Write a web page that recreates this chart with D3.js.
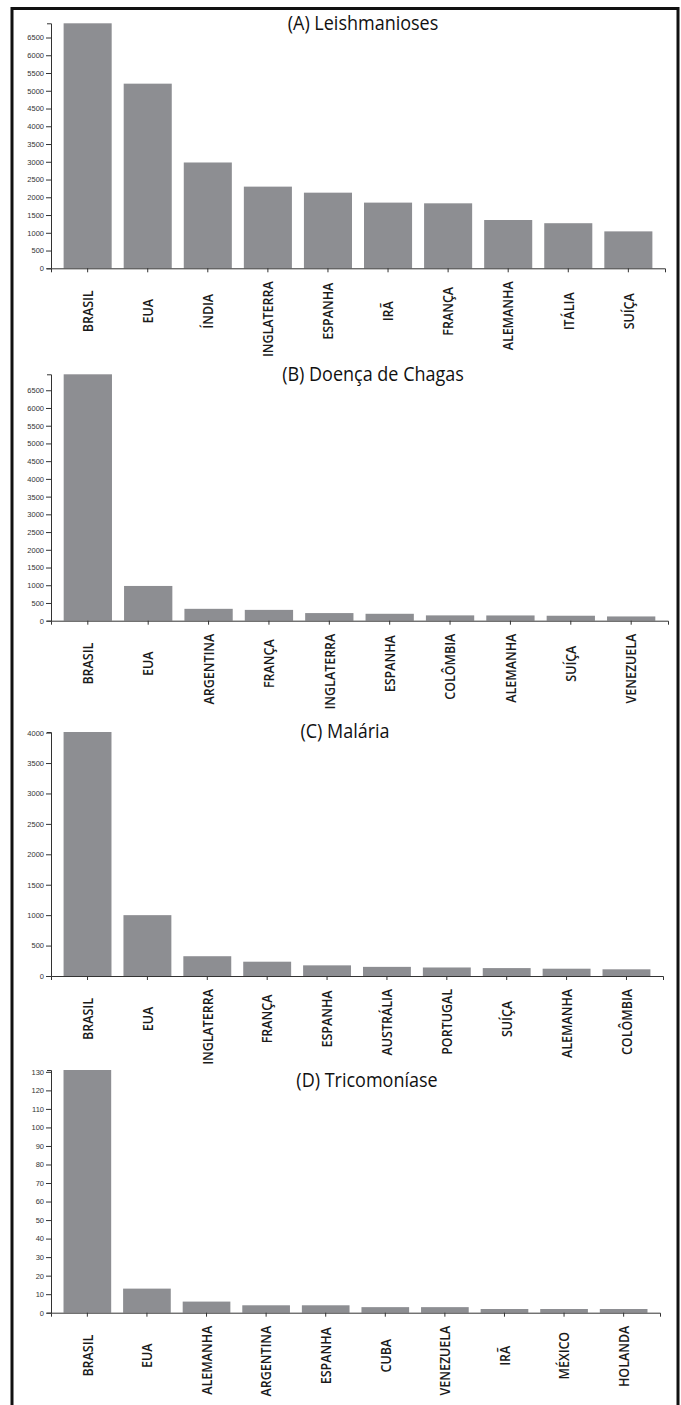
<!DOCTYPE html>
<html>
<head>
<meta charset="utf-8">
<script src="https://cdn.jsdelivr.net/npm/d3@7"></script>
<style>
  html, body { margin: 0; padding: 0; background: #fff; }
  svg { display: block; }
</style>
</head>
<body>
<svg id="chart" width="681" height="1405"></svg>
<script>
// ---- Data ----
const catsA = ["BRASIL", "EUA", "ÍNDIA", "INGLATERRA", "ESPANHA", "IRÃ", "FRANÇA", "ALEMANHA", "ITÁLIA", "SUÍÇA"];
const valsA = [6900, 5200, 2980, 2300, 2130, 1850, 1830, 1360, 1270, 1040];
const ticksA = [0, 500, 1000, 1500, 2000, 2500, 3000, 3500, 4000, 4500, 5000, 5500, 6000, 6500];

const catsB = ["BRASIL", "EUA", "ARGENTINA", "FRANÇA", "INGLATERRA", "ESPANHA", "COLÔMBIA", "ALEMANHA", "SUÍÇA", "VENEZUELA"];
const valsB = [6950, 980, 335, 305, 215, 195, 150, 148, 140, 120];
const ticksB = [0, 500, 1000, 1500, 2000, 2500, 3000, 3500, 4000, 4500, 5000, 5500, 6000, 6500];

const catsC = ["BRASIL", "EUA", "INGLATERRA", "FRANÇA", "ESPANHA", "AUSTRÁLIA", "PORTUGAL", "SUÍÇA", "ALEMANHA", "COLÔMBIA"];
const valsC = [4010, 1000, 325, 235, 175, 150, 140, 130, 120, 110];
const ticksC = [0, 500, 1000, 1500, 2000, 2500, 3000, 3500, 4000];

const catsD = ["BRASIL", "EUA", "ALEMANHA", "ARGENTINA", "ESPANHA", "CUBA", "VENEZUELA", "IRÃ", "MÉXICO", "HOLANDA"];
const valsD = [131, 13, 6, 4, 4, 3, 3, 2, 2, 2];
const ticksD = [0, 10, 20, 30, 40, 50, 60, 70, 80, 90, 100, 110, 120, 130];

const titles = ["(A) Leishmanioses", "(B) Doença de Chagas", "(C) Malária", "(D) Tricomoníase"];

// ---- Layout ----
const layout = [
  { top: 23.3, bottom: 268.3, xEnd: 665, titleX: 363, titleY: 25 },
  { top: 374.3, bottom: 620.7, xEnd: 668, titleX: 373, titleY: 376 },
  { top: 732.0, bottom: 976.0, xEnd: 663, titleX: 345, titleY: 733 },
  { top: 1070.0, bottom: 1312.7, xEnd: 660, titleX: 367, titleY: 1082 }
];
const panels = [
  { cats: catsA, vals: valsA, ticks: ticksA },
  { cats: catsB, vals: valsB, ticks: ticksB },
  { cats: catsC, vals: valsC, ticks: ticksC },
  { cats: catsD, vals: valsD, ticks: ticksD }
];

const svg = d3.select("#chart");
const xLeft = 51;
const barColor = "#8d8e92";
const labelSqueeze = 0.86;
const titleSqueeze = 0.9;

// outer frame
svg.append("rect")
  .attr("x", 12).attr("y", 8.5)
  .attr("width", 666).attr("height", 1420)
  .attr("fill", "none").attr("stroke", "#111").attr("stroke-width", 3);

panels.forEach((p, i) => {
  const L = layout[i];
  const g = svg.append("g");

  const x = d3.scaleBand()
    .domain(p.cats)
    .range([xLeft, L.xEnd])
    .paddingInner(0.2)
    .paddingOuter(0.21);

  const y = d3.scaleLinear()
    .domain([0, d3.max(p.vals)])
    .range([L.bottom, L.top]);

  // bars
  g.selectAll("rect.bar")
    .data(p.cats.map((c, k) => ({ c, v: p.vals[k] })))
    .join("rect")
    .attr("class", "bar")
    .attr("x", d => x(d.c))
    .attr("width", x.bandwidth())
    .attr("y", d => y(d.v))
    .attr("height", d => L.bottom - y(d.v))
    .attr("fill", barColor);

  // y axis
  const yAxis = g.append("g")
    .attr("transform", `translate(${xLeft},0)`)
    .call(d3.axisLeft(y).tickValues(p.ticks).tickFormat(d3.format("d"))
      .tickSize(5).tickSizeOuter(4).tickPadding(2));
  yAxis.selectAll("text")
    .attr("font-family", "'Liberation Sans', Arial, sans-serif")
    .attr("font-size", 7.5)
    .attr("fill", "#333");
  yAxis.selectAll("line, path").attr("stroke", "#333");

  // x axis
  const xAxis = g.append("g")
    .attr("transform", `translate(0,${L.bottom})`)
    .call(d3.axisBottom(x).tickSize(4).tickSizeOuter(4).tickFormat(""));
  xAxis.selectAll("line, path").attr("stroke", "#333");

  // category labels
  const labels = g.selectAll("text.cat")
    .data(p.cats)
    .join("text")
    .attr("class", "cat")
    .attr("font-family", "'Open Sans', sans-serif")
    .attr("font-size", 14.5)
    .attr("font-weight", 600)
    .attr("fill", "#1a1a1a")
    .attr("text-anchor", "end")
    .attr("dy", "0.36em")
    .text(d => d);
  labels.each(function(d) {
    const len = this.getComputedTextLength() * labelSqueeze;
    const topY = L.bottom + Math.max(13, 43 - len / 2);
    d3.select(this).attr("transform",
      `translate(${x(d) + x.bandwidth() / 2},${topY}) rotate(-90) scale(${labelSqueeze},1)`);
  });

  // title
  g.append("text")
    .attr("transform", `translate(${L.titleX},${L.titleY}) scale(${titleSqueeze},1)`)
    .attr("text-anchor", "middle")
    .attr("dominant-baseline", "middle")
    .attr("font-family", "'Open Sans', sans-serif")
    .attr("font-size", 20)
    .attr("font-weight", 500)
    .attr("fill", "#111")
    .text(titles[i]);
});
</script>
</body>
</html>
